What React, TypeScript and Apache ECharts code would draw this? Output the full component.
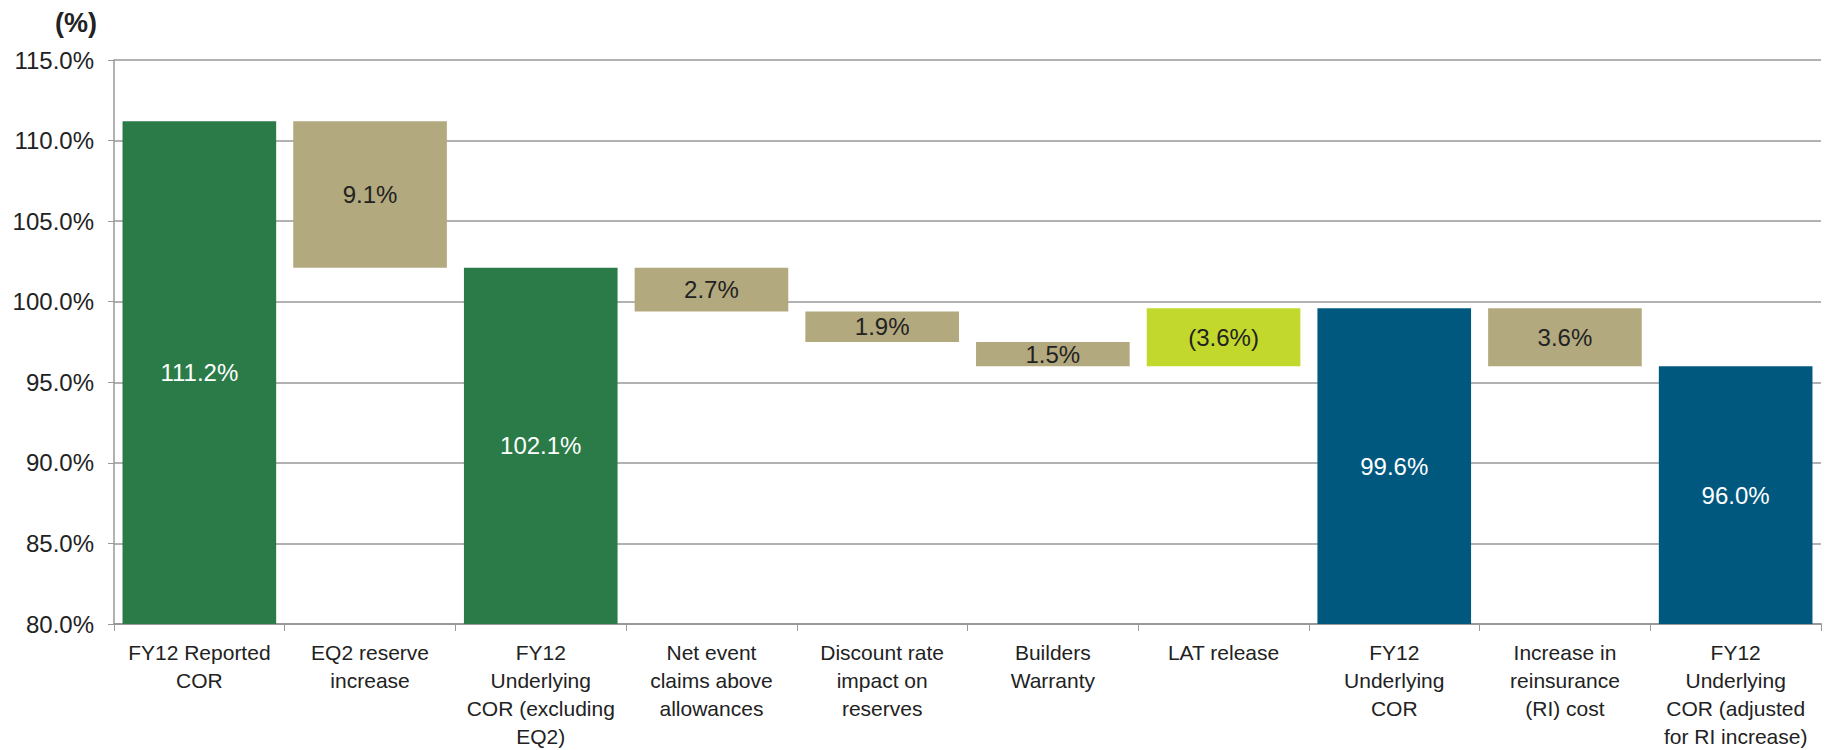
import React, { useEffect, useRef } from "react";
import * as echarts from "echarts";

const categories = [
  "FY12 Reported\nCOR",
  "EQ2 reserve\nincrease",
  "FY12\nUnderlying\nCOR (excluding\nEQ2)",
  "Net event\nclaims above\nallowances",
  "Discount rate\nimpact on\nreserves",
  "Builders\nWarranty",
  "LAT release",
  "FY12\nUnderlying\nCOR",
  "Increase in\nreinsurance\n(RI) cost",
  "FY12\nUnderlying\nCOR (adjusted\nfor RI increase)",
];

// Totals (full bars) and steps (floating bars that lower the running level; negative raises it)
const totals: (number | null)[] = [111.2, null, 102.1, null, null, null, null, 99.6, null, 96.0];
const steps: (number | null)[] = [null, 9.1, null, 2.7, 1.9, 1.5, -3.6, null, 3.6, null];
const yTicks = { min: 80, max: 115, interval: 5 };

const GREEN = "#2A7B47";
const BLUE = "#00587F";
const TAN = "#B3A97E";
const LIME = "#C3D82C";
const totalColors = [GREEN, null, GREEN, null, null, null, null, BLUE, null, BLUE];

export default function App() {
  const ref = useRef<HTMLDivElement>(null);
  useEffect(() => {
    document.body.style.margin = "0";
    if (!ref.current) return;
    const chart = echarts.init(ref.current, null, { renderer: "svg" });

    const base: number[] = [];
    const vis: any[] = [];
    let level = 0;
    categories.forEach((_, i) => {
      const t = totals[i];
      const s = steps[i];
      if (t != null) {
        level = t;
        base.push(0);
        vis.push({
          value: t,
          label: t.toFixed(1) + "%",
          itemStyle: { color: totalColors[i] },
          labelColor: "#ffffff",
        });
      } else if (s != null) {
        const next = level - s;
        const lo = Math.min(level, next);
        base.push(lo);
        vis.push({
          value: Math.abs(s),
          label: s < 0 ? "(" + Math.abs(s).toFixed(1) + "%)" : s.toFixed(1) + "%",
          itemStyle: { color: s < 0 ? LIME : TAN },
          labelColor: "#222222",
        });
        level = next;
      }
    });

    const font = "'Liberation Sans', Arial, sans-serif";

    chart.setOption({
      animation: false,
      backgroundColor: "#ffffff",
      grid: { left: 114, right: 5, top: 60, bottom: 125, containLabel: false },
      graphic: [
        {
          type: "text",
          left: 55,
          top: 9,
          style: { text: "(%)", font: `bold 27px ${font}`, fill: "#222" },
        },
      ],
      xAxis: {
        type: "category",
        data: categories,
        axisLine: { show: true, lineStyle: { color: "#999", width: 2 } },
        axisTick: { show: true, length: 7, lineStyle: { color: "#999" } },
        axisLabel: {
          interval: 0,
          color: "#222",
          fontFamily: font,
          fontSize: 21,
          lineHeight: 28,
          margin: 14,
        },
      },
      yAxis: {
        type: "value",
        min: yTicks.min,
        max: yTicks.max,
        interval: yTicks.interval,
        axisLine: { show: true, lineStyle: { color: "#999", width: 1.5 } },
        axisTick: { show: true, length: 6, lineStyle: { color: "#999" } },
        splitLine: { lineStyle: { color: "#999", width: 1.5 } },
        axisLabel: {
          color: "#222",
          fontFamily: font,
          fontSize: 24,
          margin: 20,
          formatter: (v: number) => v.toFixed(1) + "%",
        },
      },
      series: [
        {
          type: "bar",
          stack: "w",
          data: base,
          itemStyle: { color: "transparent" },
          barCategoryGap: "10%",
          silent: true,
        },
        {
          type: "bar",
          stack: "w",
          barCategoryGap: "10%",
          data: vis.map((d) => ({
            value: d.value,
            itemStyle: d.itemStyle,
            label: {
              show: true,
              position: "inside",
              color: d.labelColor,
              fontFamily: font,
              fontSize: 24,
              formatter: () => d.label,
            },
          })),
        },
      ],
    });
    return () => chart.dispose();
  }, []);
  return <div ref={ref} style={{ width: 1826, height: 750 }} />;
}
